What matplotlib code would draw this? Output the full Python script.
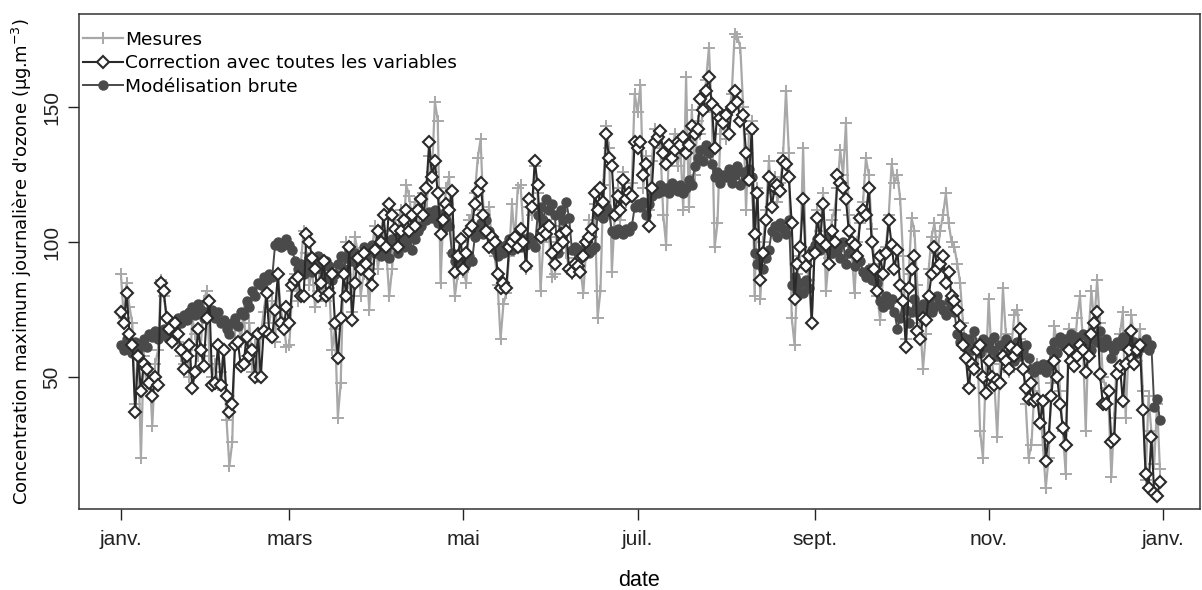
import numpy as np
import matplotlib
matplotlib.use("Agg")
import matplotlib.pyplot as plt

# daily values, one line per month (janv. -> déc.)
mesures = [
    88, 72, 85, 76, 70, 40, 62, 20, 58, 48, 52, 32, 55, 60, 86, 80, 72, 68, 70, 66, 63, 58, 55, 60, 50, 72, 66, 58, 62, 78, 82,
    58, 50, 55, 47, 52, 60, 34, 17, 26, 68, 72, 63, 75, 58, 70, 52, 62, 50, 66, 74, 82, 70, 78, 63, 88, 75, 70, 61,
    62, 82, 88, 78, 92, 104, 96, 84, 90, 76, 82, 94, 80, 78, 83, 60, 68, 35, 48, 90, 100, 85, 74, 102, 96, 80, 88, 92, 75, 98, 106,
    90, 98, 104, 96, 80, 90, 108, 102, 112, 106, 121, 117, 108, 115, 104, 112, 118, 110, 132, 126, 152, 145, 85, 112, 120, 124, 96, 80, 88, 100,
    89, 85, 108, 110, 118, 131, 138, 112, 105, 113, 98, 95, 84, 64, 77, 81, 95, 114, 100, 120, 121, 105, 90, 113, 110, 128, 118, 82, 100, 108, 102,
    87, 88, 100, 106, 110, 96, 90, 88, 94, 96, 90, 81, 98, 108, 102, 114, 72, 82, 121, 143, 135, 89, 110, 120, 108, 126, 115, 118, 122, 155,
    148, 158, 120, 132, 112, 130, 142, 138, 135, 110, 99, 136, 130, 140, 128, 135, 112, 161, 113, 149, 125, 145, 140, 150, 160, 172, 148, 98, 107, 140, 145,
    138, 148, 155, 177, 176, 172, 150, 112, 140, 145, 80, 120, 79, 100, 112, 130, 118, 124, 115, 122, 133, 156, 133, 72, 62, 88, 95, 135, 92, 86, 70,
    98, 112, 104, 118, 82, 94, 108, 112, 120, 134, 125, 144, 110, 97, 81, 100, 107, 115, 131, 125, 105, 92, 80, 71, 88, 98, 110, 129, 122, 125,
    116, 95, 64, 88, 109, 104, 84, 70, 53, 66, 90, 102, 107, 96, 104, 110, 118, 107, 100, 98, 92, 85, 70, 60, 47, 55, 64, 62, 30, 20, 52,
    79, 58, 48, 28, 55, 83, 66, 52, 62, 73, 75, 64, 58, 40, 20, 25, 45, 55, 40, 25, 9, 20, 48, 69, 62, 45, 30, 14, 68, 60,
    58, 72, 80, 64, 30, 66, 82, 70, 86, 70, 50, 46, 40, 13, 35, 60, 66, 74, 35, 60, 73, 62, 56, 68, 45, 12, 43, 30, 18, 40, 16,
]

correction = [
    74, 70, 81, 66, 62, 37, 58, 45, 55, 53, 48, 43, 50, 47, 85, 82, 72, 68, 63, 70, 66, 60, 53, 58, 62, 46, 52, 68, 60, 54, 72,
    78, 47, 48, 62, 47, 60, 43, 37, 40, 62, 63, 54, 55, 65, 58, 60, 50, 66, 50, 67, 81, 66, 65, 75, 88, 70, 68, 76,
    70, 84, 86, 87, 80, 80, 103, 100, 94, 90, 80, 85, 93, 80, 81, 88, 70, 57, 72, 88, 80, 98, 71, 85, 94, 90, 96, 92, 88, 84, 97,
    104, 100, 110, 98, 114, 110, 105, 98, 104, 108, 112, 104, 110, 106, 112, 116, 110, 120, 137, 124, 130, 118, 103, 108, 114, 112, 119, 89, 95, 101,
    90, 96, 104, 106, 114, 119, 122, 110, 104, 98, 102, 100, 88, 83, 85, 83, 98, 100, 102, 98, 105, 100, 91, 116, 113, 130, 121, 102, 104, 103, 106,
    96, 92, 98, 103, 100, 104, 90, 89, 92, 91, 89, 95, 100, 102, 105, 118, 112, 120, 115, 140, 131, 128, 110, 117, 112, 123, 116, 118, 117, 137,
    135, 137, 125, 129, 106, 120, 137, 139, 141, 133, 129, 136, 131, 134, 137, 136, 139, 133, 136, 143, 140, 142, 153, 149, 156, 161, 151, 135, 149, 146, 144,
    147, 140, 150, 156, 152, 145, 147, 133, 123, 142, 103, 118, 86, 96, 108, 124, 113, 120, 121, 119, 130, 129, 124, 107, 79, 92, 98, 116, 91, 95, 70,
    96, 109, 101, 114, 99, 92, 104, 100, 125, 122, 120, 116, 104, 100, 99, 95, 109, 112, 110, 120, 100, 90, 82, 95, 88, 96, 108, 99, 90, 97,
    84, 78, 61, 83, 90, 95, 67, 64, 72, 71, 80, 88, 98, 90, 92, 95, 85, 89, 80, 78, 75, 69, 62, 57, 46, 55, 53, 60, 62, 50, 44,
    56, 50, 47, 49, 48, 58, 56, 53, 61, 58, 60, 68, 53, 46, 42, 48, 41, 42, 33, 41, 19, 28, 43, 56, 50, 40, 31, 25, 60, 56,
    54, 58, 62, 60, 52, 58, 66, 70, 74, 51, 40, 40, 45, 26, 27, 51, 54, 41, 55, 60, 67, 55, 60, 62, 38, 14, 9, 28, 7, 6, 11,
]

modele = [
    62, 60, 64, 61, 59, 63, 60, 62, 64, 61, 66, 65, 67, 64, 66, 68, 65, 67, 70, 68, 72, 70, 73, 71, 74, 76, 73, 77, 75, 72, 74,
    73, 75, 72, 74, 70, 71, 68, 66, 70, 72, 69, 74, 73, 78, 76, 82, 80, 85, 84, 87, 86, 88, 87, 99, 100, 98, 99, 101,
    99, 97, 93, 90, 92, 88, 91, 94, 89, 92, 95, 90, 87, 93, 91, 86, 88, 92, 95, 90, 94, 97, 93, 96, 91, 95, 98, 94, 97, 99, 96,
    98, 95, 100, 97, 94, 101, 99, 96, 102, 98, 100, 103, 97, 101, 104, 106, 110, 108, 111, 109, 112, 107, 110, 105, 108, 106, 96, 93, 95, 91,
    94, 92, 95, 93, 102, 105, 107, 103, 108, 104, 100, 97, 95, 98, 96, 99, 101, 97, 100, 102, 98, 101, 99, 102, 100, 98, 110, 113, 108, 116, 112,
    114, 110, 96, 112, 108, 115, 109, 97, 98, 96, 97, 95, 98, 96, 97, 98, 110, 112, 109, 113, 111, 104, 103, 105, 104, 103, 105, 104, 106, 113,
    114, 113, 115, 110, 114, 117, 119, 118, 121, 119, 120, 118, 122, 120, 119, 121, 118, 120, 123, 121, 128, 131, 134, 130, 136, 133, 129, 124, 126, 122, 125,
    124, 127, 122, 125, 128, 121, 126, 123, 127, 124, 96, 92, 95, 90, 94, 97, 104, 106, 102, 107, 105, 103, 108, 84, 87, 82, 85, 81, 86, 83, 97,
    99, 101, 97, 100, 98, 102, 96, 99, 97, 94, 100, 92, 96, 98, 91, 95, 93, 89, 87, 90, 86, 88, 85, 78, 76, 80, 77, 79, 74, 68,
    72, 78, 75, 70, 74, 79, 76, 73, 77, 75, 78, 74, 76, 80, 77, 75, 73, 78, 76, 74, 66, 63, 65, 61, 64, 60, 67, 62, 59, 64, 61,
    63, 60, 65, 58, 62, 57, 64, 59, 61, 56, 63, 58, 60, 62, 57, 53, 52, 54, 53, 55, 52, 54, 60, 63, 59, 65, 62, 64, 61, 66,
    63, 65, 61, 66, 62, 64, 60, 65, 63, 67, 61, 64, 62, 57, 60, 63, 62, 65, 61, 64, 60, 63, 59, 62, 61, 64, 60, 62, 39, 42, 34,
]

mois_pos = [0, 59, 120, 181, 243, 304, 365]
mois_lab = ["janv.", "mars", "mai", "juil.", "sept.", "nov.", "janv."]

jours = np.arange(len(mesures))

fig = plt.figure(figsize=(12.02, 5.9), dpi=100)
ax = fig.add_axes([0.0657, 0.137, 0.9323, 0.839])

ax.plot(jours, mesures, color="#a8a8a8", lw=1.6, marker="+", ms=9, mew=1.4,
        label="Mesures", zorder=1)
ax.plot(jours, modele, color="#4a4a4a", lw=1.4, marker="o", ms=6.5,
        mec="#4a4a4a", label="Modélisation brute", zorder=2)
ax.plot(jours, correction, color="#2a2a2a", lw=1.5, marker="D", ms=6,
        mfc="white", mec="#2a2a2a", mew=1.5,
        label="Correction avec toutes les variables", zorder=3)

ax.set_xlim(-14.7, 377.9)
ax.set_ylim(1.1, 184.4)
ax.set_xticks(mois_pos)
ax.set_xticklabels(mois_lab)
ax.set_yticks([50, 100, 150])
ax.tick_params(axis="both", direction="out", length=8, width=1, labelsize=15, colors="#222222")
ax.tick_params(axis="x", pad=7)
for lab in ax.get_xticklabels() + ax.get_yticklabels():
    lab.set_family("Liberation Sans")
for lab in ax.get_yticklabels():
    lab.set_rotation(90)
    lab.set_va("center")
ax.tick_params(axis="y", pad=5)
for s in ax.spines.values():
    s.set_linewidth(1.1)
    s.set_color("#333333")

ax.set_xlabel("date", fontsize=15.5, family="Liberation Sans", labelpad=15)
ax.set_ylabel("Concentration maximum journalière d'ozone (µg.m$^{-3}$)", fontsize=13, labelpad=6)

h, l = ax.get_legend_handles_labels()
order = [0, 2, 1]
ax.legend([h[i] for i in order], [l[i] for i in order], loc="upper left",
          bbox_to_anchor=(0.0, 0.974), frameon=False, fontsize=13.3,
          handlelength=2.2, handletextpad=0.1, borderaxespad=0.0,
          labelspacing=0.3, borderpad=0.2)

fig.savefig("out.png", dpi=100)
